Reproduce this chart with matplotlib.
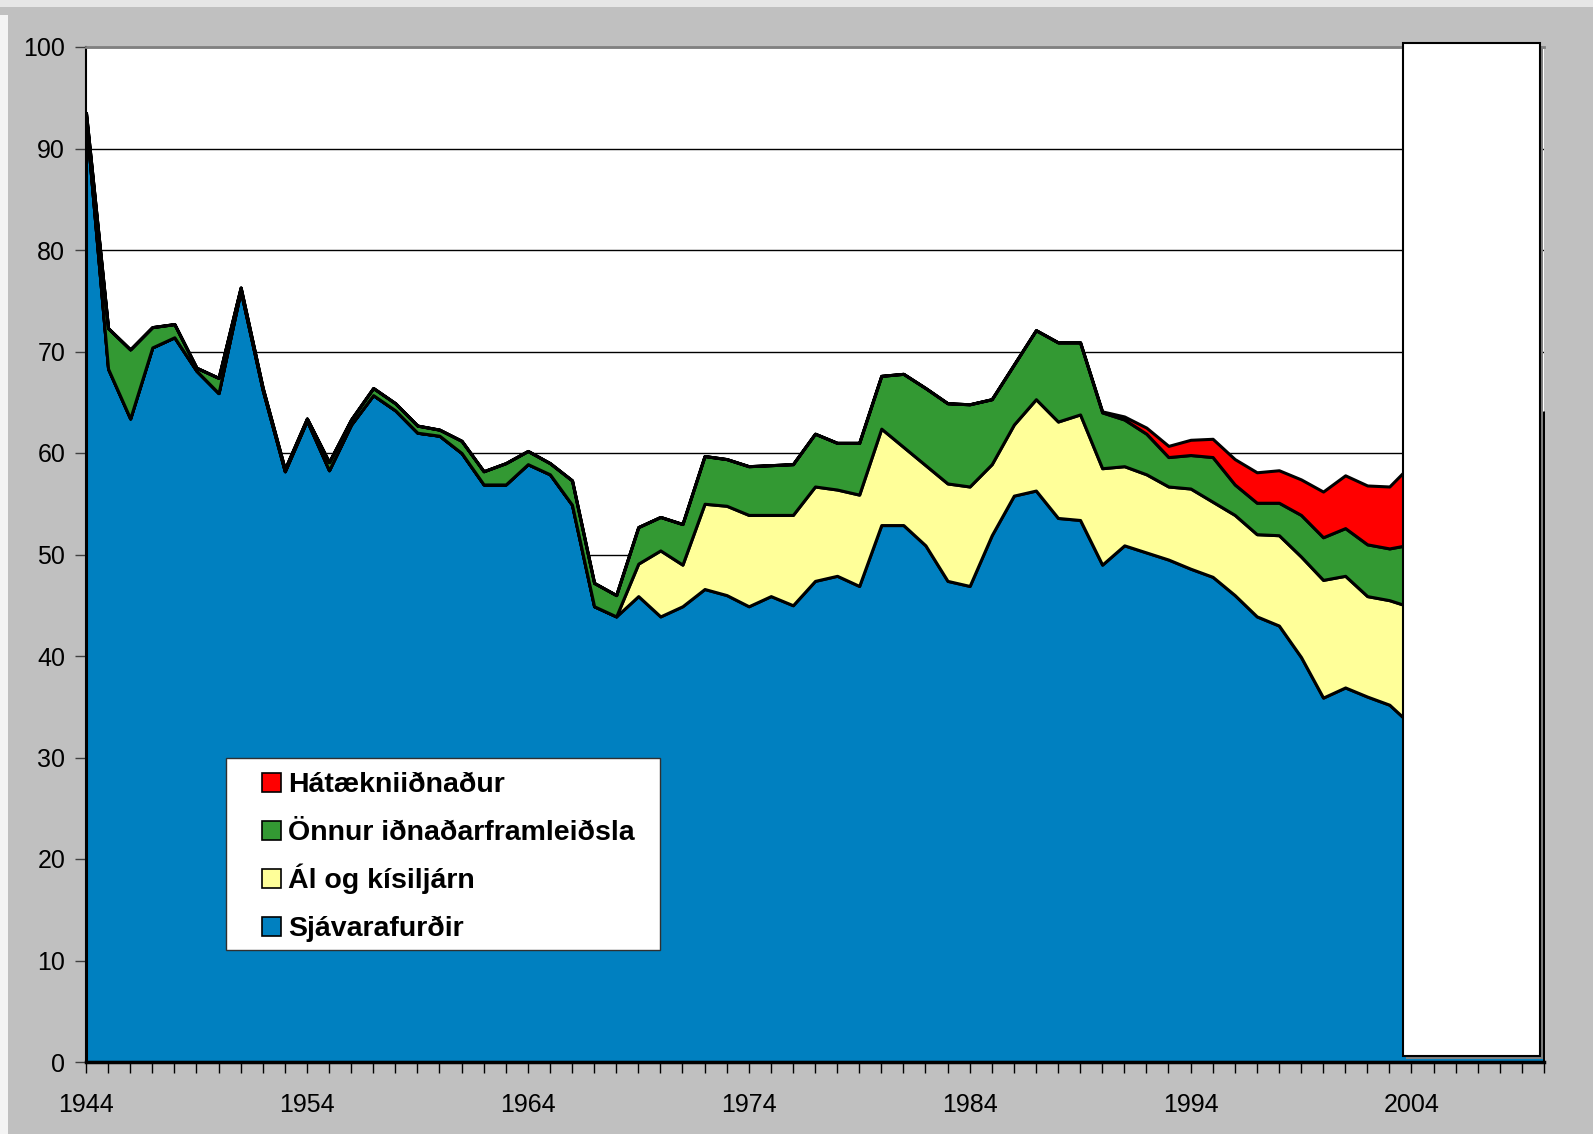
import matplotlib
matplotlib.use('Agg')
import matplotlib.pyplot as plt
from matplotlib.patches import Rectangle
import numpy as np

# Share of exports by category (%), 1944-2010
years = list(range(1944, 2011))

sjavarafurdir = [
    93.0, 68.3, 63.4, 70.4, 71.4, 68.1, 65.9, 76.0, 66.2, 58.2,
    63.2, 58.3, 62.8, 65.7, 64.2, 62.0, 61.7, 60.0, 56.9, 56.9,
    58.9, 57.9, 54.9, 44.9, 43.9, 45.9, 43.9, 44.9, 46.6, 46.0,
    44.9, 45.9, 45.0, 47.4, 47.9, 46.9, 52.9, 52.9, 50.9, 47.4,
    46.9, 51.9, 55.8, 56.3, 53.6, 53.4, 49.0, 50.9, 50.2, 49.5,
    48.6, 47.8, 46.0, 43.9, 43.0, 39.9, 35.9, 36.9, 36.0, 35.2,
    33.2, 32.0, 30.5, 29.0, 28.5, 29.5, 29.0,
]
al_kisiljarn = [
    0, 0, 0, 0, 0, 0, 0, 0, 0, 0,
    0, 0, 0, 0, 0, 0, 0, 0, 0, 0,
    0, 0, 0, 0, 0, 3.2, 6.5, 4.1, 8.4, 8.8,
    9.0, 8.0, 8.9, 9.3, 8.5, 9.0, 9.5, 7.7, 7.9, 9.6,
    9.8, 7.0, 7.0, 9.0, 9.5, 10.4, 9.5, 7.8, 7.7, 7.2,
    7.9, 7.4, 7.9, 8.1, 8.9, 9.9, 11.6, 11.0, 9.9, 10.3,
    11.6, 12.0, 14.0, 17.0, 22.0, 20.0, 21.0,
]
onnur = [
    0.5, 4.0, 6.8, 2.0, 1.3, 0.3, 1.5, 0.3, 0.2, 0.2,
    0.2, 0.8, 0.5, 0.7, 0.7, 0.7, 0.6, 1.2, 1.3, 2.1,
    1.3, 1.1, 2.4, 2.3, 2.1, 3.6, 3.3, 4.0, 4.7, 4.6,
    4.8, 4.9, 5.0, 5.2, 4.6, 5.1, 5.2, 7.2, 7.6, 7.9,
    8.1, 6.4, 5.9, 6.8, 7.8, 7.1, 5.5, 4.6, 4.0, 2.9,
    3.3, 4.4, 3.0, 3.1, 3.2, 4.1, 4.2, 4.7, 5.1, 5.1,
    6.2, 6.0, 6.0, 6.0, 6.0, 6.0, 6.0,
]
hataekni = [
    0, 0, 0, 0, 0, 0, 0, 0, 0, 0,
    0, 0, 0, 0, 0, 0, 0, 0, 0, 0,
    0, 0, 0, 0, 0, 0, 0, 0, 0, 0,
    0, 0, 0, 0, 0, 0, 0, 0, 0, 0,
    0, 0, 0, 0, 0, 0, 0.1, 0.3, 0.6, 1.1,
    1.5, 1.8, 2.5, 3.0, 3.2, 3.5, 4.5, 5.2, 5.8, 6.1,
    7.9, 8.0, 8.0, 8.0, 8.0, 8.0, 8.0,
]

labels = ['Sjávarafurðir', 'Ál og kísiljárn', 'Önnur iðnaðarframleiðsla', 'Hátækniiðnaður']
colors = ['#0080C0', '#FFFF99', '#339933', '#FF0000']

plt.rcParams['font.family'] = ['Liberation Sans', 'DejaVu Sans']

W, H = 1593, 1134
fig = plt.figure(figsize=(W / 100, H / 100), dpi=100, facecolor='#C0C0C0')
# light window strips at the top and left edge
fig.patches.append(Rectangle((0, 1 - 7 / H), 1, 7 / H, transform=fig.transFigure,
                             facecolor='#E6E6E6', edgecolor='none'))
fig.patches.append(Rectangle((0, 0), 8 / W, 1 - 15 / H, transform=fig.transFigure,
                             facecolor='#F4F4F4', edgecolor='none'))

# plot area in pixels: left 86, right 1544, top 47, bottom 1062
ax = fig.add_axes([86 / W, 1 - 1062 / H, 1458 / W, 1015 / H])
ax.set_facecolor('white')

ax.stackplot(years, sjavarafurdir, al_kisiljarn, onnur, hataekni,
             colors=colors, edgecolor='black', linewidth=2.2, zorder=3)

ax.set_xlim(1944, 2010)
ax.set_ylim(0, 100)
ax.set_yticks(range(0, 101, 10))
ax.yaxis.grid(True, color='black', linewidth=1)
ax.set_axisbelow(True)

ax.set_xticks(years)
ax.set_xticklabels([str(y) if (y - 1944) % 10 == 0 else '' for y in years])
ax.tick_params(axis='x', length=8, width=1, color='black', pad=14, labelsize=18)
ax.tick_params(axis='y', length=8, width=1, color='#404040', pad=7, labelsize=18)

ax.spines['top'].set_color('#808080')
ax.spines['top'].set_linewidth(2)
ax.spines['right'].set_visible(False)
ax.spines['left'].set_color('black')
ax.spines['left'].set_linewidth(1.5)
ax.spines['bottom'].set_color('black')
ax.spines['bottom'].set_linewidth(2.5)
ax.spines['bottom'].set_zorder(5)

# blank box covering the last years
ax.add_patch(Rectangle((2003.77, 0.3), 6.19, 99.8, facecolor='#808080', edgecolor='none',
                       clip_on=False, zorder=9))
ax.add_patch(Rectangle((2003.63, 0.6), 6.19, 99.8, facecolor='white', edgecolor='black',
                       linewidth=1.5, clip_on=False, zorder=10))

# legend drawn by hand so rows are evenly spaced
ax.add_patch(Rectangle((0.096, 0.110), 0.298, 0.190, transform=ax.transAxes,
                       facecolor='white', edgecolor='#303030', linewidth=1, zorder=11))
row_px = [782, 830, 878, 926]
for yc, lab, col in zip(row_px, labels[::-1], colors[::-1]):
    ax.add_patch(Rectangle(((262 - 86) / 1458, (1062 - yc - 9.5) / 1015), 19 / 1458, 19 / 1015,
                           transform=ax.transAxes, facecolor=col, edgecolor='black',
                           linewidth=1.2, zorder=12))
    ax.text((288 - 86) / 1458, (1062 - yc - 10.5) / 1015, lab, transform=ax.transAxes,
            fontsize=20.5, fontweight='bold', va='baseline', ha='left', zorder=12)

fig.savefig('out.png', dpi=100, facecolor=fig.get_facecolor())
